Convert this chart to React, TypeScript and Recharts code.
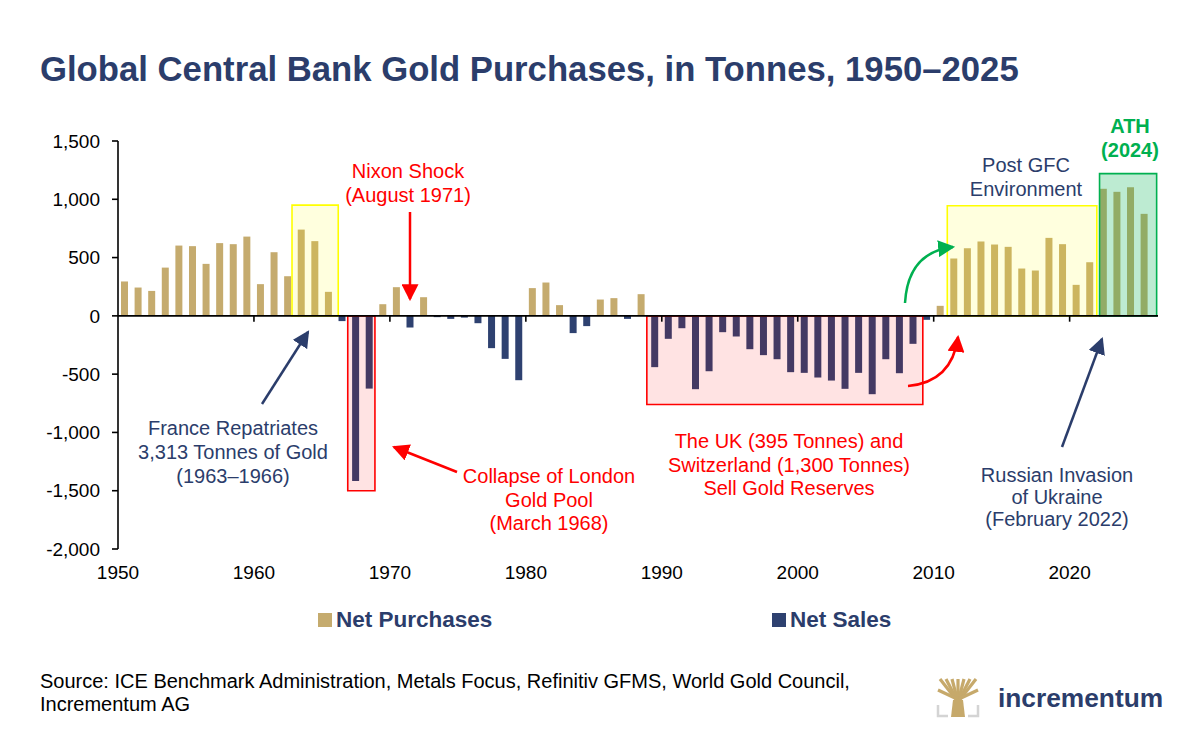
import React from 'react';
import { BarChart, Bar, XAxis, YAxis, ReferenceArea, ReferenceLine } from 'recharts';

// annual net central bank flows, tonnes
const years = Array.from({ length: 76 }, (_, i) => 1950 + i);
const netTonnes = [
  295, 243, 214, 414, 603, 598, 446, 624, 615, 680,
  272, 546, 340, 740, 641, 206, -45, -1416, -624, 100,
  246, -100, 160, -11, -26, -15, -63, -277, -369, -552,
  238, 286, 92, -148, -88, 140, 152, -26, 186, -440,
  -197, -106, -629, -475, -140, -177, -286, -337, -372, -483,
  -489, -529, -555, -626, -489, -672, -372, -492, -240, -34,
  86, 492, 580, 638, 612, 592, 406, 389, 669, 615,
  266, 460, 1090, 1064, 1104, 875,
];
const xTicks = [1950, 1960, 1970, 1980, 1990, 2000, 2010, 2020];
const yTicks = [-2000, -1500, -1000, -500, 0, 500, 1000, 1500];
const seriesNames = ['Net Purchases', 'Net Sales'];
const seriesColors = ['#C5AB6E', '#2E4170'];

const highlightBoxes = [
  { x1: 1962.8, x2: 1966.2, y1: 0, y2: 950, color: '#FFFF00', opacity: 0.13 },
  { x1: 1966.9, x2: 1968.9, y1: -1500, y2: 0, color: '#FF0000', opacity: 0.11 },
  { x1: 1988.9, x2: 2009.2, y1: -760, y2: 0, color: '#FF0000', opacity: 0.11 },
  { x1: 2011.0, x2: 2022.0, y1: 0, y2: 945, color: '#FFFF00', opacity: 0.13 },
  { x1: 2022.2, x2: 2026.4, y1: 0, y2: 1220, color: '#00B050', opacity: 0.26 },
];

const NAVY = '#2B3D6B';
const RED = '#FF0000';
const GREEN = '#00B050';
const FONT = '"Liberation Sans", Arial, sans-serif';

const data = years.map((year, i) => ({
  slot: year + 0.5,
  purchases: netTonnes[i] > 0 ? netTonnes[i] : 0,
  sales: netTonnes[i] < 0 ? netTonnes[i] : 0,
}));

const fmt = (v: number) => v.toLocaleString('en-US');

type NoteProps = { x: number; y: number; lines: string[]; color: string; bold?: boolean; step?: number };
const Note = ({ x, y, lines, color, bold, step = 23.5 }: NoteProps) => (
  <text x={x} y={y} fill={color} fontSize={20} fontWeight={bold ? 700 : 400} textAnchor="middle" fontFamily={FONT}>
    {lines.map((l, i) => (
      <tspan key={i} x={x} y={y + i * step}>{l}</tspan>
    ))}
  </text>
);

const Overlay = () => (
  <svg width={1200} height={747} style={{ position: 'absolute', left: 0, top: 0, pointerEvents: 'none' }}>
    <defs>
      {[['navy', NAVY], ['red', RED], ['green', GREEN]].map(([id, c]) => (
        <marker key={id} id={`head-${id}`} viewBox="0 0 16 16" refX={14} refY={8} markerWidth={17} markerHeight={17} markerUnits="userSpaceOnUse" orient="auto">
          <path d="M0,0 L16,8 L0,16 z" fill={c} />
        </marker>
      ))}
    </defs>

    <text x={40} y={81} fontSize={34.7} fontWeight={700} fill={NAVY} fontFamily={FONT}>
      Global Central Bank Gold Purchases, in Tonnes, 1950–2025
    </text>

    {/* annotations */}
    <Note x={408} y={178} lines={['Nixon Shock', '(August 1971)']} color={RED} step={24} />
    <line x1={410} y1={212} x2={410} y2={299} stroke={RED} strokeWidth={2.5} markerEnd="url(#head-red)" />

    <Note x={233} y={435} lines={['France Repatriates', '3,313 Tonnes of Gold', '(1963–1966)']} color={NAVY} step={24} />
    <line x1={262} y1={404} x2={308} y2={332} stroke={NAVY} strokeWidth={2.5} markerEnd="url(#head-navy)" />

    <Note x={549} y={483} lines={['Collapse of London', 'Gold Pool', '(March 1968)']} color={RED} />
    <line x1={457} y1={472} x2={394} y2={447} stroke={RED} strokeWidth={2.5} markerEnd="url(#head-red)" />

    <Note x={789} y={448} lines={['The UK (395 Tonnes) and', 'Switzerland (1,300 Tonnes)', 'Sell Gold Reserves']} color={RED} />
    <path d="M908,386 Q952,382 958,337" fill="none" stroke={RED} strokeWidth={2.5} markerEnd="url(#head-red)" />

    <path d="M905,303 Q908,252 953,247" fill="none" stroke={GREEN} strokeWidth={2.5} markerEnd="url(#head-green)" />
    <Note x={1026} y={172} lines={['Post GFC', 'Environment']} color={NAVY} step={24} />

    <Note x={1130} y={133} lines={['ATH', '(2024)']} color={GREEN} bold step={24} />

    <Note x={1057} y={482} lines={['Russian Invasion', 'of Ukraine', '(February 2022)']} color={NAVY} step={22} />
    <line x1={1062} y1={447} x2={1102} y2={339} stroke={NAVY} strokeWidth={2.5} markerEnd="url(#head-navy)" />

    {/* legend */}
    {seriesNames.map((name, i) => {
      const left = i === 0 ? 318 : 772;
      return (
        <g key={name}>
          <rect x={left} y={613} width={14} height={14} fill={seriesColors[i]} />
          <text x={left + 18} y={627} fontSize={22.5} fontWeight={700} fill={NAVY} fontFamily={FONT}>{name}</text>
        </g>
      );
    })}

    {/* source */}
    <text x={40} y={688} fontSize={20} fill="#000" fontFamily={FONT}>
      <tspan x={40} y={688}>Source: ICE Benchmark Administration, Metals Focus, Refinitiv GFMS, World Gold Council,</tspan>
      <tspan x={40} y={711}>Incrementum AG</tspan>
    </text>

    {/* logo */}
    <g stroke="#C6A96B" strokeWidth={3.2} strokeLinecap="butt" fill="none">
      <path d="M958,702 L940,679" />
      <path d="M958,702 L946,679" />
      <path d="M958,702 L952,679" />
      <path d="M958,702 L958,679" />
      <path d="M958,702 L964,679" />
      <path d="M958,702 L970,679" />
      <path d="M958,702 L976,679" />
      <path d="M955,698 L938,690" />
      <path d="M961,698 L978,690" />
    </g>
    <path d="M953,700 L963,700 L965,717 L951,717 Z" fill="#C6A96B" />
    <path d="M938,705 L938,716 L948,716 M978,705 L978,716 L968,716" stroke="#D4D4D4" strokeWidth={2.5} fill="none" />
    <text x={998} y={707} fontSize={26.3} fontWeight={700} fill={NAVY} fontFamily={FONT}>incrementum</text>
  </svg>
);

export default function App() {
  return (
    <div style={{ position: 'absolute', left: 0, top: 0, width: 1200, height: 747, background: '#fff', fontFamily: FONT }}>
      <BarChart width={1200} height={747} data={data} stackOffset="sign" margin={{ top: 141, right: 42, left: 0, bottom: 168 }}>
        <XAxis
          type="number"
          dataKey="slot"
          domain={[1950, 2026.5]}
          ticks={xTicks}
          interval={0}
          axisLine={false}
          tickLine={false}
          tickSize={6}
          tickMargin={11}
          height={30}
          tick={{ fontSize: 19, fill: '#000', fontFamily: FONT }}
        />
        <YAxis
          domain={[-2000, 1500]}
          ticks={yTicks}
          interval={0}
          width={118}
          tickFormatter={fmt}
          axisLine={{ stroke: '#000', strokeWidth: 1.6 }}
          tickLine={{ stroke: '#000', strokeWidth: 1.6 }}
          tickSize={6}
          tickMargin={12}
          tick={{ fontSize: 19, fill: '#000', fontFamily: FONT }}
        />
        <Bar dataKey="purchases" name={seriesNames[0]} stackId="flow" fill={seriesColors[0]} barSize={7} isAnimationActive={false} />
        <Bar dataKey="sales" name={seriesNames[1]} stackId="flow" fill={seriesColors[1]} barSize={7} isAnimationActive={false} />
        {highlightBoxes.map((b, i) => (
          <ReferenceArea
            key={i}
            x1={b.x1}
            x2={b.x2}
            y1={b.y1}
            y2={b.y2}
            fill={b.color}
            fillOpacity={b.opacity}
            stroke={b.color}
            strokeWidth={1.6}
            strokeOpacity={1}
            zIndex={350}
          />
        ))}
        <ReferenceLine y={0} stroke="#000" strokeWidth={1.6} zIndex={400} />
        {xTicks.slice(1).map((t) => (
          <ReferenceLine key={t} segment={[{ x: t, y: 0 }, { x: t, y: -50 }]} stroke="#000" strokeWidth={1.6} zIndex={400} />
        ))}
      </BarChart>
      <Overlay />
    </div>
  );
}
